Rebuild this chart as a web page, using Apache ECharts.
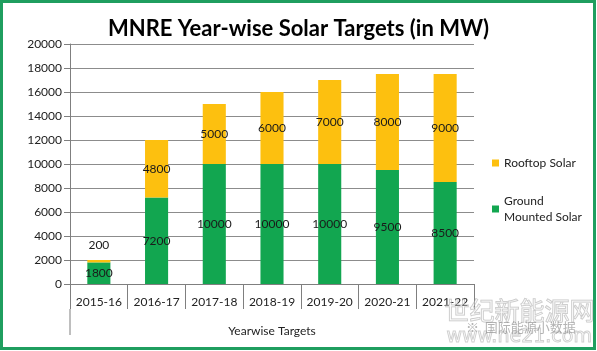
<!DOCTYPE html>
<html>
<head>
<meta charset="utf-8">
<script src="https://cdn.jsdelivr.net/npm/echarts@6/dist/echarts.min.js"></script>
<style>
  html, body { margin: 0; padding: 0; background: #fff; }
  #chart { width: 597px; height: 351px; }
</style>
</head>
<body>
<div id="chart"></div>
<script>
var years = ['2015-16', '2016-17', '2017-18', '2018-19', '2019-20', '2020-21', '2021-22'];
var groundData = [1800, 7200, 10000, 10000, 10000, 9500, 8500];
var rooftopData = [200, 4800, 5000, 6000, 7000, 8000, 9000];
var yTicks = [0, 20000, 2000]; // min, max, step

var font = 'Lato, "Open Sans", sans-serif';
var green = '#12a650';
var yellow = '#fdc00f';

// small rooftop segment gets its label above the bar, like the original
var rooftopSeries = rooftopData.map(function (v) {
    if (v < 1000) {
        return { value: v, label: { position: 'top', distance: 9 } };
    }
    return v;
});

var mychart = echarts.init(document.getElementById('chart'), null, { renderer: 'canvas' });

var option = {
    animation: false,
    title: {
        text: 'MNRE Year-wise Solar Targets (in MW)',
        left: 'center',
        top: 13,
        textStyle: { fontFamily: font, fontSize: 22, fontWeight: 'bold', color: '#000' }
    },
    legend: {
        orient: 'vertical',
        left: 487,
        top: 150,
        itemWidth: 7,
        itemHeight: 7,
        itemGap: 22,
        icon: 'rect',
        data: ['Rooftop Solar', 'Ground\nMounted Solar'],
        textStyle: { fontFamily: font, fontSize: 12, color: '#222', lineHeight: 16 }
    },
    grid: { left: 70, right: 123, top: 44, bottom: 67, containLabel: false },
    xAxis: {
        type: 'category',
        data: years,
        name: 'Yearwise Targets',
        nameLocation: 'middle',
        nameGap: 41,
        nameTextStyle: { fontFamily: font, fontSize: 12, color: '#222' },
        axisLine: { lineStyle: { color: '#7f7f7f', width: 1 } },
        axisTick: { show: true, interval: 0, length: 25, lineStyle: { color: '#7f7f7f' } },
        axisLabel: { interval: 0, fontFamily: font, fontSize: 12, color: '#222', margin: 12 }
    },
    yAxis: {
        type: 'value',
        min: yTicks[0],
        max: yTicks[1],
        interval: yTicks[2],
        axisLine: { show: true, lineStyle: { color: '#7f7f7f' } },
        axisTick: { show: true, length: 6, lineStyle: { color: '#7f7f7f' } },
        axisLabel: {
            fontFamily: font, fontSize: 12, color: '#222', margin: 8,
            formatter: function (v) { return String(v); }
        },
        splitLine: { lineStyle: { color: '#8c8c8c', width: 1 } }
    },
    series: [{
        name: 'Ground\nMounted Solar',
        type: 'bar',
        stack: 'total',
        barWidth: '40%',
        data: groundData,
        itemStyle: { color: green },
        label: { show: true, position: 'inside', fontFamily: font, fontSize: 12, color: '#1a1a1a' }
    }, {
        name: 'Rooftop Solar',
        type: 'bar',
        stack: 'total',
        barWidth: '40%',
        data: rooftopSeries,
        itemStyle: { color: yellow },
        label: { show: true, position: 'inside', fontFamily: font, fontSize: 12, color: '#1a1a1a' }
    }]
};
mychart.setOption(option);

// left axis line runs on past the category boxes, down beside the level-2 label
var p0 = mychart.convertToPixel({ gridIndex: 0 }, [0, 0]);
var xLeft = 70, yBase = p0[1];
mychart.setOption({
    graphic: [{
        type: 'line',
        shape: { x1: xLeft, y1: yBase + 25, x2: xLeft, y2: yBase + 51 },
        style: { stroke: '#7f7f7f', lineWidth: 1 }
    }, {
        type: 'rect',
        shape: { x: 1.5, y: 1.5, width: 593, height: 347 },
        style: { fill: null, stroke: '#1f9e5f', lineWidth: 3 },
        z: 100
    }, {
        type: 'text',
        left: 444, top: 297,
        style: { text: '世纪新能源网', font: '25px "Noto Sans CJK SC"', fill: 'rgba(255,255,255,0.3)', stroke: 'rgba(150,150,150,0.55)', lineWidth: 1 },
        z: 50
    }, {
        type: 'text',
        left: 466, top: 321,
        style: { text: '※  国际能源小数据', font: '13px "Noto Sans CJK SC"', fill: 'rgba(130,130,130,0.6)' },
        z: 51
    }, {
        type: 'text',
        left: 446, top: 327,
        style: { text: 'www.ne21.com', font: '19px "DejaVu Sans"', fill: 'rgba(255,255,255,0)', stroke: 'rgba(150,150,150,0.45)', lineWidth: 1 },
        z: 49
    }]
});
</script>
</body>
</html>
